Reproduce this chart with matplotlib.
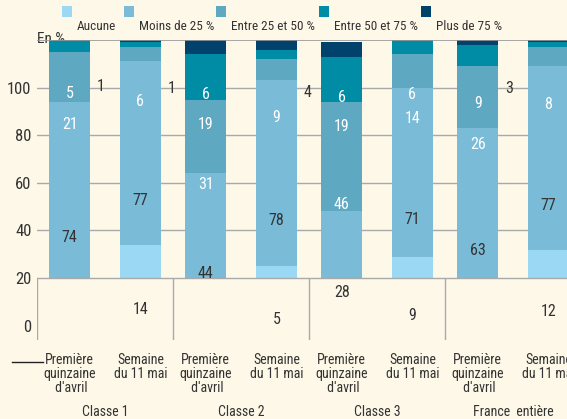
import matplotlib
matplotlib.use("Agg")
import matplotlib.pyplot as plt
import matplotlib.font_manager as fm
from matplotlib.patches import Rectangle
from matplotlib.lines import Line2D
import numpy as np

# pick a narrow sans font if one is installed
_names = {f.name for f in fm.fontManager.ttflist}
_narrow = None
for cand in ['Liberation Sans Narrow', 'Arial Narrow', 'Roboto Condensed', 'Noto Sans Condensed',
             'Open Sans Condensed', 'DejaVu Sans Condensed', 'Nimbus Sans Narrow']:
    if cand in _names:
        _narrow = cand
        break
if _narrow is None:
    for n in sorted(_names):
        if ('Narrow' in n or 'Condensed' in n) and 'Mono' not in n and 'Serif' not in n:
            _narrow = n
            break
if _narrow is not None:
    plt.rcParams['font.family'] = [_narrow, 'Liberation Sans', 'DejaVu Sans']
    SCALE = 1.0
else:
    plt.rcParams['font.family'] = ['Liberation Sans', 'DejaVu Sans']
    SCALE = 0.86

# ---- data ----
groups = ['Classe 1', 'Classe 2', 'Classe 3', 'France  entière']
periods = ["Première\nquinzaine\n d'avril", "Semaine\ndu 11 mai"]
series_names = ['Aucune', 'Moins de 25 %', 'Entre 25 et 50 %', 'Entre 50 et 75 %', 'Plus de 75 %']
aucune = [0, 14, 0, 5, 0, 9, 0, 12]
moins25 = [74, 77, 44, 78, 28, 71, 63, 77]
entre25_50 = [21, 6, 31, 9, 46, 14, 26, 8]
entre50_75 = [5, 2, 19, 4, 19, 6, 9, 2]
plus75 = [1, 1, 6, 4, 6, 0, 3, 1]
ytick_values = [-20, 0, 20, 40, 60, 80]
ytick_labels = ['0', '20', '40', '60', '80', '100']

colors = ['#9bd8f4', '#7abbd7', '#5fa8c2', '#008ca4', '#00426b']
label_colors = ['#333333', '#333333', 'white', 'white', 'white']
bg = '#fdf8e8'
grid_c = '#a9a9a9'
txt_c = '#333333'

series = [aucune, moins25, entre25_50, entre50_75, plus75]

W, H = 567, 419
fig = plt.figure(figsize=(W / 100, H / 100), dpi=100, facecolor=bg)
ax = fig.add_axes([37 / W, (H - 340) / H, (581 - 37) / W, 300 / H])
ax.set_facecolor(bg)
ax.set_xlim(-0.5, len(groups) - 0.5)
ax.set_ylim(-26, 100)

offsets = [-0.26, 0.26]
xpos = np.array([g + offsets[p] for g in range(len(groups)) for p in range(2)])
width = 0.30
vfs = 11.5 * SCALE

bottom = np.zeros(len(xpos))
for s, vals in enumerate(series):
    vals = np.array(vals, dtype=float)
    ax.bar(xpos, vals, width, bottom=bottom, color=colors[s], edgecolor='none', zorder=3)
    centers = bottom + vals / 2 - 20
    for i, v in enumerate(vals):
        if v <= 0:
            continue
        if v < 5:
            if s == len(series) - 1:
                xl = xpos[i] + width / 2 + 0.05
                if ax.transData.transform((xl, 0))[0] < W - 8:
                    ax.text(xl, centers[i], f'{int(v)}', ha='left', va='center',
                            fontsize=vfs, color=txt_c, zorder=5)
            continue
        ax.text(xpos[i], centers[i], f'{int(v)}', ha='center', va='center',
                fontsize=vfs, color=label_colors[s], zorder=5)
    bottom += vals

# gridlines and frame lines
for y in [20, 40, 60, 80]:
    ax.axhline(y, color=grid_c, lw=1, zorder=1)
ax.axhline(100, color='#999999', lw=1.2, zorder=4)
ax.axhline(0, color=grid_c, lw=1, zorder=4)
ax.vlines([g - 0.5 for g in range(len(groups))], -26, 0, color=grid_c, lw=1, zorder=4)
for sp in ax.spines.values():
    sp.set_visible(False)

ax.set_yticks(ytick_values)
ax.set_yticklabels(ytick_labels)
ax.tick_params(axis='y', length=0, pad=4, labelsize=12 * SCALE, labelcolor=txt_c)
ax.text(-0.5, 100.5, 'En %', ha='left', va='center', fontsize=11 * SCALE, color=txt_c, zorder=2)

ax.set_xticks(xpos)
ax.set_xticklabels(periods * len(groups), fontsize=10 * SCALE, color=txt_c, linespacing=1.0)
ax.tick_params(axis='x', length=0, pad=9)

for g, name in enumerate(groups):
    ax.annotate(name, xy=(g, 0), xycoords=('data', 'axes fraction'), xytext=(0, -72),
                textcoords='offset pixels', ha='center', va='center', fontsize=10 * SCALE,
                color=txt_c, annotation_clip=False)

# legend: squares above-left of the labels
sq_x = [62, 124, 216, 319, 421]
for name, c, x0 in zip(series_names, colors, sq_x):
    fig.add_artist(Rectangle((x0 / W, 1 - 17 / H), 10 / W, 11 / H, transform=fig.transFigure,
                             facecolor=c, edgecolor='none'))
    fig.text((x0 + 15) / W, 1 - 27 / H, name, ha='left', va='center', fontsize=9.5 * SCALE,
             color=txt_c)

fig.add_artist(Line2D([12 / W, 43 / W], [1 - 361.5 / H] * 2, color='#222222', lw=1,
                      transform=fig.transFigure))

fig.savefig('out.png', dpi=100, facecolor=bg)
